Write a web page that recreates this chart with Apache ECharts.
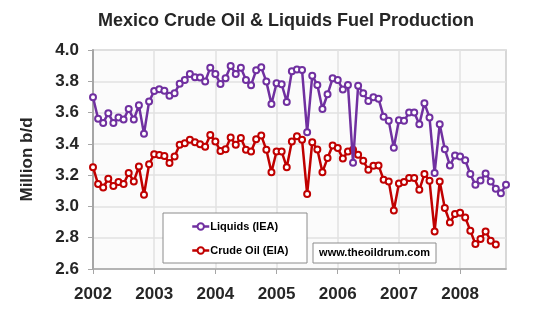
<!DOCTYPE html>
<html>
<head>
<meta charset="utf-8">
<script src="https://cdn.jsdelivr.net/npm/echarts@6/dist/echarts.min.js"></script>
<style>
html,body{margin:0;padding:0;background:#fff;}
#chart{width:542px;height:324px;}
</style>
</head>
<body>
<div id="chart"></div>
<script>
// Tick labels (years) and monthly categories
const years = ['2002','2003','2004','2005','2006','2007','2008'];
const months = [];
for (let i = 0; i < 82; i++) {
  months.push(String(2002 + Math.floor(i / 12)) + '-' + String(i % 12 + 1).padStart(2, '0'));
}

// Liquids (IEA), million b/d, Jan 2002 - Oct 2008
const liquids = [
  3.698, 3.560, 3.534, 3.596, 3.534, 3.568, 3.555, 3.623, 3.555, 3.647, 3.464, 3.670,
  3.738, 3.749, 3.740, 3.708, 3.724, 3.785, 3.809, 3.847, 3.826, 3.824, 3.798, 3.887,
  3.847, 3.783, 3.819, 3.898, 3.847, 3.887, 3.809, 3.775, 3.870, 3.889, 3.798, 3.655,
  3.787, 3.781, 3.668, 3.864, 3.876, 3.872, 3.475, 3.836, 3.777, 3.623, 3.717, 3.819,
  3.809, 3.747, 3.777, 3.279, 3.772, 3.724, 3.674, 3.698, 3.689, 3.574, 3.547, 3.375,
  3.551, 3.547, 3.600, 3.600, 3.526, 3.660, 3.568, 3.213, 3.526, 3.366, 3.262, 3.326,
  3.319, 3.296, 3.207, 3.138, 3.166, 3.211, 3.160, 3.113, 3.085, 3.138
];

// Crude Oil (EIA), million b/d, Jan 2002 - Aug 2008
const crude = [
  3.251, 3.143, 3.121, 3.177, 3.130, 3.156, 3.143, 3.213, 3.160, 3.255, 3.075, 3.270,
  3.334, 3.328, 3.322, 3.277, 3.319, 3.394, 3.404, 3.426, 3.411, 3.398, 3.381, 3.456,
  3.415, 3.355, 3.366, 3.440, 3.394, 3.438, 3.362, 3.351, 3.430, 3.453, 3.362, 3.219,
  3.351, 3.351, 3.251, 3.415, 3.449, 3.426, 3.079, 3.411, 3.364, 3.219, 3.309, 3.389,
  3.373, 3.306, 3.351, 3.362, 3.330, 3.292, 3.234, 3.260, 3.262, 3.170, 3.160, 2.974,
  3.146, 3.156, 3.181, 3.181, 3.106, 3.207, 3.164, 2.840, 3.160, 2.990, 2.898, 2.951,
  2.960, 2.930, 2.845, 2.760, 2.792, 2.840, 2.781, 2.756
];

const PURPLE = '#7030A0';
const RED = '#C00000';
const FONT = '"Liberation Sans", Arial, sans-serif';

const chart = echarts.init(document.getElementById('chart'), null, {renderer: 'canvas'});
const yearTick = (i) => i % 12 === 0;

chart.setOption({
  animation: false,
  backgroundColor: '#ffffff',
  title: {
    text: 'Mexico Crude Oil & Liquids Fuel Production',
    left: 93, top: 7,
    textStyle: {fontFamily: FONT, fontSize: 18, fontWeight: 'bold', color: '#262626'}
  },
  grid: {
    left: 93, right: 36, top: 50, bottom: 55,
    show: true, backgroundColor: '#fbfbfb', borderColor: '#cccccc', borderWidth: 1.5
  },
  legend: {
    orient: 'vertical',
    left: 186, top: 216,
    itemWidth: 17, itemHeight: 8, itemGap: 13,
    z: 30,
    data: ['Liquids (IEA)', 'Crude Oil (EIA)'],
    itemStyle: {borderWidth: 1},
    lineStyle: {width: 2.5},
    textStyle: {fontFamily: FONT, fontSize: 11, fontWeight: 'bold', color: '#000', padding: [0, 0, 0, -4]}
  },
  graphic: [
    {type: 'rect', z: 20, shape: {x: 163, y: 213, width: 144, height: 50},
     style: {fill: '#ffffff', stroke: '#8c8c8c', lineWidth: 1}},
    {type: 'rect', z: 20, shape: {x: 313, y: 243, width: 123, height: 20},
     style: {fill: '#ffffff', stroke: '#8c8c8c', lineWidth: 1}},
    {type: 'text', z: 21, x: 374.5, y: 253,
     style: {text: 'www.theoildrum.com', fill: '#000', font: 'bold 11px ' + FONT,
             textAlign: 'center', textVerticalAlign: 'middle'}}
  ],
  xAxis: {
    type: 'category',
    data: months,
    boundaryGap: false,
    axisLine: {show: true, lineStyle: {color: '#a6a6a6', width: 1.5}},
    axisTick: {show: true, interval: yearTick, length: 5, lineStyle: {color: '#a6a6a6'}},
    splitLine: {show: true, interval: yearTick, lineStyle: {color: '#e2e2e2', width: 1.5}},
    axisLabel: {
      interval: yearTick, margin: 17,
      formatter: (v) => years[years.indexOf(v.slice(0, 4))],
      fontFamily: FONT, fontSize: 17, fontWeight: 'bold', color: '#262626'
    }
  },
  yAxis: {
    type: 'value',
    min: 2.6, max: 4.0, interval: 0.2,
    name: 'Million b/d',
    nameLocation: 'middle', nameGap: 57,
    nameTextStyle: {fontFamily: FONT, fontSize: 17, fontWeight: 'bold', color: '#262626'},
    axisLine: {show: true, lineStyle: {color: '#a6a6a6', width: 2}},
    axisTick: {show: true, length: 5, lineStyle: {color: '#a6a6a6'}},
    splitLine: {show: true, lineStyle: {color: '#e2e2e2', width: 1.5}},
    axisLabel: {
      margin: 14,
      formatter: (v) => v.toFixed(1),
      fontFamily: FONT, fontSize: 17, fontWeight: 'bold', color: '#262626'
    }
  },
  series: [
    {
      name: 'Crude Oil (EIA)', type: 'line', data: crude, z: 3,
      symbol: 'emptyCircle', symbolSize: 6, showAllSymbol: true,
      lineStyle: {color: RED, width: 2.5},
      itemStyle: {color: RED, borderColor: RED, borderWidth: 1}
    },
    {
      name: 'Liquids (IEA)', type: 'line', data: liquids, z: 4,
      symbol: 'emptyCircle', symbolSize: 6, showAllSymbol: true,
      lineStyle: {color: PURPLE, width: 2.5},
      itemStyle: {color: PURPLE, borderColor: PURPLE, borderWidth: 1}
    }
  ]
});
</script>
</body>
</html>
